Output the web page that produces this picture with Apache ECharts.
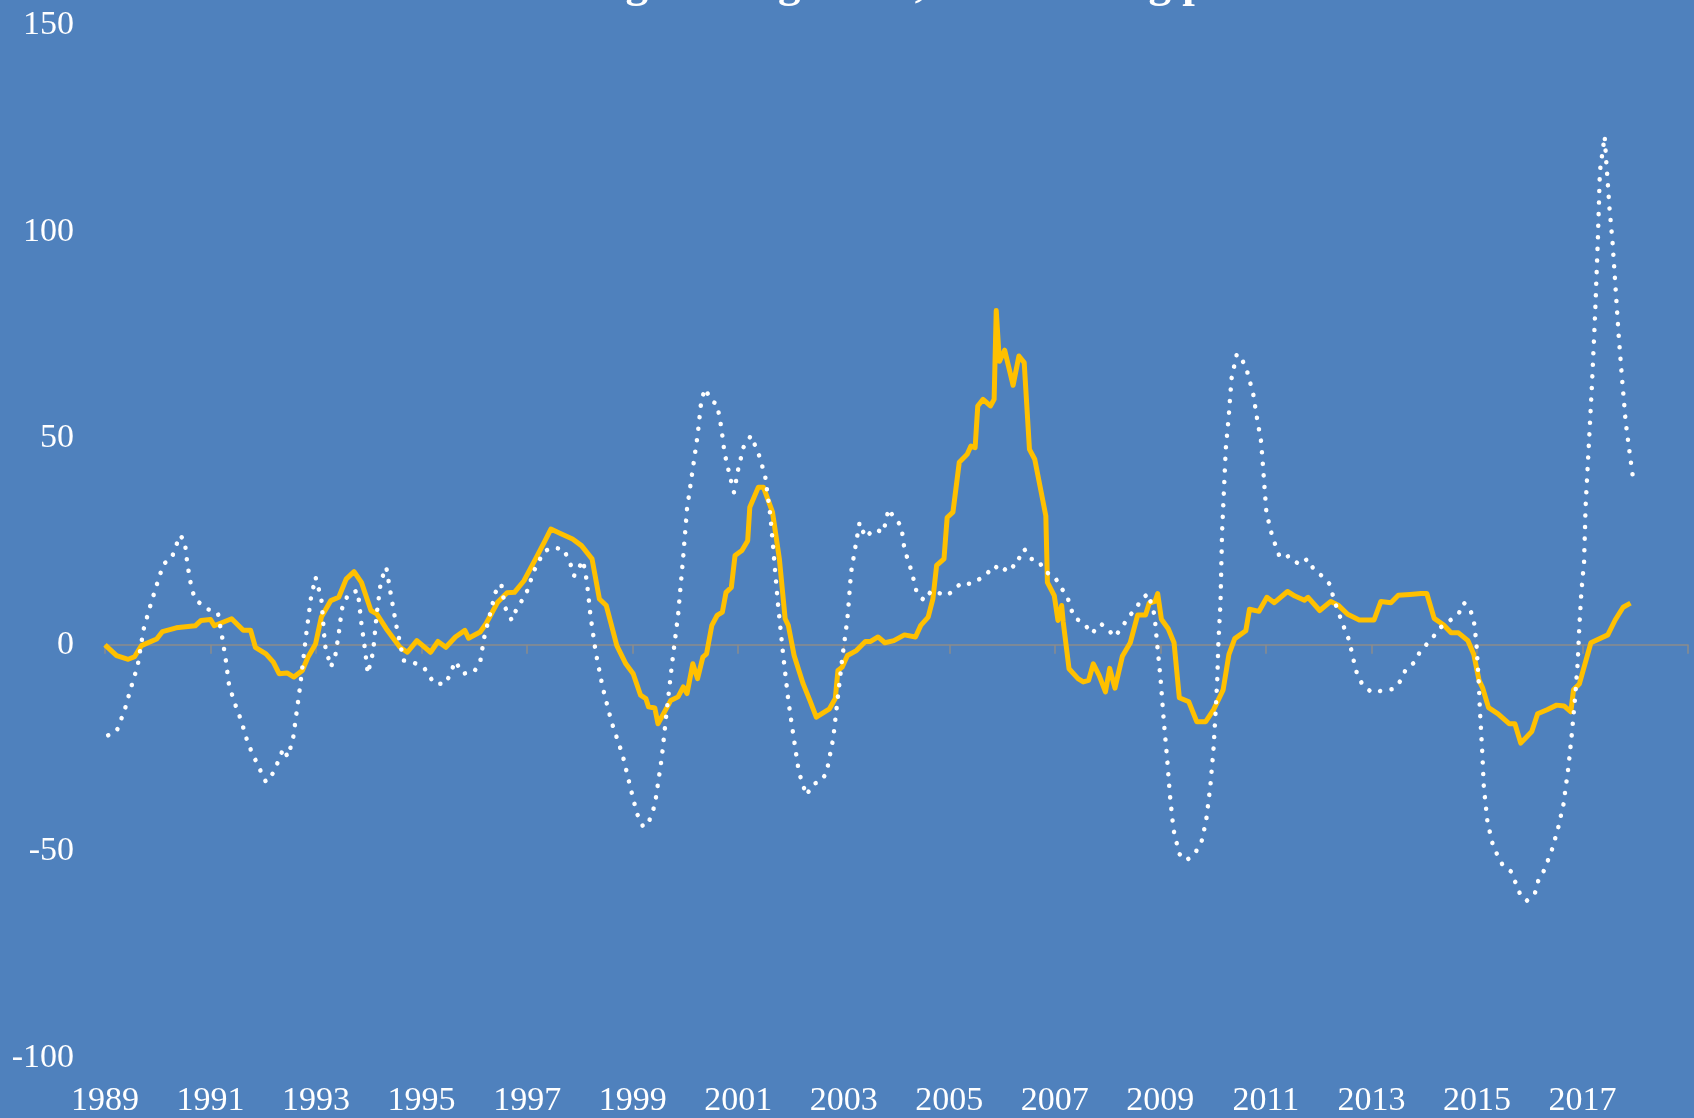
<!DOCTYPE html>
<html>
<head>
<meta charset="utf-8">
<script src="https://cdn.jsdelivr.net/npm/echarts@6/dist/echarts.min.js"></script>
<style>
  html, body { margin: 0; padding: 0; background: #4f81bd; }
  #chart { width: 1694px; height: 1118px; }
</style>
</head>
<body>
<div id="chart"></div>
<script>
// x axis runs Jan 1989 .. Jan 2019, labelled every 2 years
const firstYear = 1989;
const spanYears = 30;
const yTicks = [-100, -50, 0, 50, 100, 150];

// solid gold line (decimal year, value)
const solidYears = [
  1989.00, 1989.22, 1989.44, 1989.56, 1989.69, 1989.98, 1990.09, 1990.35, 1990.71, 1990.82,
  1991.00, 1991.07, 1991.40, 1991.62, 1991.76, 1991.85, 1992.05, 1992.19, 1992.30, 1992.45,
  1992.58, 1992.74, 1992.85, 1992.99, 1993.10, 1993.28, 1993.43, 1993.57, 1993.72, 1993.86,
  1994.04, 1994.15, 1994.33, 1994.59, 1994.73, 1994.91, 1995.17, 1995.31, 1995.46, 1995.64,
  1995.82, 1995.89, 1996.11, 1996.22, 1996.44, 1996.62, 1996.76, 1996.94, 1997.16, 1997.34,
  1997.45, 1997.62, 1997.86, 1998.03, 1998.23, 1998.37, 1998.50, 1998.70, 1998.87, 1999.01,
  1999.15, 1999.25, 1999.30, 1999.42, 1999.48, 1999.72, 1999.86, 1999.96, 2000.03, 2000.14,
  2000.23, 2000.33, 2000.40, 2000.50, 2000.60, 2000.70, 2000.77, 2000.87, 2000.94, 2001.07,
  2001.18, 2001.22, 2001.38, 2001.48, 2001.65, 2001.78, 2001.89, 2001.95, 2002.06, 2002.23,
  2002.36, 2002.48, 2002.73, 2002.84, 2002.89, 2002.97, 2003.07, 2003.24, 2003.41, 2003.51,
  2003.65, 2003.78, 2003.95, 2004.15, 2004.36, 2004.46, 2004.60, 2004.69, 2004.76, 2004.90,
  2004.96, 2005.07, 2005.19, 2005.34, 2005.41, 2005.49, 2005.54, 2005.64, 2005.78, 2005.85,
  2005.89, 2005.95, 2006.05, 2006.21, 2006.32, 2006.42, 2006.52, 2006.62, 2006.83, 2006.86,
  2006.99, 2007.06, 2007.13, 2007.16, 2007.27, 2007.44, 2007.54, 2007.64, 2007.73, 2007.84,
  2007.96, 2008.04, 2008.14, 2008.28, 2008.43, 2008.57, 2008.72, 2008.79, 2008.90, 2008.95,
  2009.02, 2009.15, 2009.26, 2009.36, 2009.54, 2009.69, 2009.86, 2010.01, 2010.19, 2010.30,
  2010.41, 2010.62, 2010.69, 2010.87, 2011.02, 2011.16, 2011.41, 2011.55, 2011.73, 2011.80,
  2012.02, 2012.23, 2012.37, 2012.55, 2012.77, 2013.05, 2013.18, 2013.37, 2013.51, 2013.73,
  2013.94, 2014.05, 2014.19, 2014.37, 2014.51, 2014.65, 2014.83, 2014.94, 2015.04, 2015.11,
  2015.22, 2015.40, 2015.61, 2015.72, 2015.83, 2016.04, 2016.15, 2016.33, 2016.51, 2016.65,
  2016.78, 2016.83, 2016.94, 2017.16, 2017.48, 2017.62, 2017.77, 2017.91
];
const solidValues = [
  0.0, -2.6, -3.5, -2.9, -0.2, 1.4, 3.2, 4.1, 4.6, 5.9,
  6.1, 4.6, 6.3, 3.5, 3.5, -0.6, -2.2, -4.2, -7.0, -6.8,
  -7.8, -6.2, -2.9, 0.2, 6.7, 10.7, 11.5, 15.9, 17.7, 15.1,
  8.3, 7.5, 3.9, -0.6, -1.8, 1.0, -1.8, 0.8, -0.6, 1.9,
  3.5, 1.6, 3.1, 5.1, 10.3, 12.6, 12.7, 15.5, 20.8, 25.2,
  28.0, 27.0, 25.6, 24.0, 20.8, 11.1, 9.5, -0.2, -4.6, -7.0,
  -12.2, -13.0, -15.0, -15.3, -19.1, -13.5, -12.6, -10.2, -11.8, -4.6,
  -8.2, -3.0, -2.2, 4.7, 7.1, 7.9, 12.7, 13.9, 21.6, 22.8,
  25.2, 33.3, 38.1, 38.1, 32.1, 20.8, 6.3, 4.7, -2.6, -9.4,
  -13.5, -17.5, -15.5, -13.0, -6.2, -5.4, -2.6, -1.4, 0.8, 0.8,
  1.9, 0.5, 1.0, 2.4, 1.9, 4.7, 6.7, 11.1, 19.2, 20.8,
  30.8, 32.1, 44.2, 46.1, 48.1, 47.7, 57.8, 59.4, 57.8, 59.4,
  80.9, 68.6, 71.3, 62.8, 69.9, 68.3, 47.3, 44.9, 31.2, 15.1,
  11.9, 5.9, 9.5, 5.5, -5.8, -8.2, -9.0, -8.6, -4.6, -7.4,
  -11.4, -5.7, -10.5, -2.8, 0.5, 7.2, 7.2, 10.1, 10.5, 12.4,
  6.2, 3.9, 0.5, -12.8, -13.8, -18.6, -18.6, -15.7, -10.9, -2.3,
  1.5, 3.4, 8.6, 8.1, 11.5, 10.2, 12.9, 11.8, 10.8, 11.5,
  8.3, 10.5, 9.6, 7.4, 6.0, 6.0, 10.5, 10.2, 12.0, 12.2,
  12.4, 12.4, 6.4, 4.8, 2.9, 2.9, 1.0, -2.3, -8.6, -10.5,
  -15.2, -16.7, -19.1, -19.1, -23.8, -21.0, -16.7, -15.7, -14.6, -14.8,
  -16.2, -10.9, -9.5, 0.5, 2.4, 6.0, 9.1, 10.1
];

// white dotted line (decimal year, value)
const dottedYears = [
  1989.06, 1989.22, 1989.37, 1989.49, 1989.62, 1989.73, 1989.85, 1989.98, 1990.11, 1990.26,
  1990.42, 1990.51, 1990.56, 1990.64, 1990.71, 1990.93, 1991.14, 1991.22, 1991.29, 1991.35,
  1991.45, 1991.58, 1991.71, 1991.88, 1992.05, 1992.20, 1992.38, 1992.46, 1992.56, 1992.70,
  1992.81, 1992.90, 1992.99, 1993.10, 1993.17, 1993.28, 1993.36, 1993.43, 1993.49, 1993.61,
  1993.79, 1993.86, 1993.93, 1993.98, 1994.08, 1994.15, 1994.23, 1994.33, 1994.41, 1994.52,
  1994.66, 1994.84, 1995.06, 1995.24, 1995.46, 1995.64, 1995.78, 1995.99, 1996.11, 1996.18,
  1996.29, 1996.40, 1996.51, 1996.58, 1996.71, 1996.80, 1996.98, 1997.13, 1997.31, 1997.45,
  1997.69, 1997.82, 1997.89, 1998.06, 1998.13, 1998.20, 1998.30, 1998.43, 1998.60, 1998.81,
  1998.97, 1999.08, 1999.19, 1999.28, 1999.42, 1999.55, 1999.65, 1999.75, 1999.86, 1999.96,
  2000.03, 2000.13, 2000.23, 2000.30, 2000.37, 2000.50, 2000.60, 2000.68, 2000.74, 2000.84,
  2000.92, 2001.00, 2001.10, 2001.24, 2001.38, 2001.51, 2001.61, 2001.68, 2001.75, 2001.85,
  2001.95, 2002.05, 2002.15, 2002.29, 2002.43, 2002.53, 2002.67, 2002.80, 2002.90, 2002.97,
  2003.07, 2003.14, 2003.22, 2003.30, 2003.41, 2003.58, 2003.75, 2003.85, 2003.95, 2004.09,
  2004.15, 2004.29, 2004.39, 2004.53, 2004.66, 2004.96, 2005.24, 2005.41, 2005.68, 2005.85,
  2006.01, 2006.15, 2006.23, 2006.42, 2006.55, 2006.69, 2006.82, 2006.99, 2007.09, 2007.23,
  2007.29, 2007.36, 2007.56, 2007.70, 2007.87, 2008.00, 2008.13, 2008.28, 2008.39, 2008.53,
  2008.64, 2008.77, 2008.89, 2008.93, 2009.00, 2009.07, 2009.13, 2009.18, 2009.25, 2009.36,
  2009.49, 2009.65, 2009.78, 2009.87, 2009.95, 2010.01, 2010.05, 2010.08, 2010.10, 2010.14,
  2010.17, 2010.21, 2010.24, 2010.30, 2010.35, 2010.45, 2010.54, 2010.64, 2010.76, 2010.83,
  2010.91, 2010.96, 2011.01, 2011.12, 2011.27, 2011.45, 2011.63, 2011.79, 2011.91, 2012.06,
  2012.20, 2012.34, 2012.49, 2012.58, 2012.68, 2012.74, 2012.85, 2013.02, 2013.20, 2013.42,
  2013.56, 2013.65, 2013.81, 2013.92, 2014.17, 2014.32, 2014.50, 2014.66, 2014.75, 2014.87,
  2014.94, 2014.99, 2015.03, 2015.06, 2015.10, 2015.13, 2015.20, 2015.31, 2015.49, 2015.65,
  2015.73, 2015.81, 2015.94, 2016.10, 2016.16, 2016.26, 2016.41, 2016.54, 2016.64, 2016.73,
  2016.80, 2016.86, 2016.91, 2016.94, 2016.98, 2017.03, 2017.06, 2017.12, 2017.18, 2017.24,
  2017.29, 2017.33, 2017.42, 2017.45, 2017.51, 2017.57, 2017.63, 2017.69, 2017.76, 2017.82,
  2017.88, 2017.97
];
const dottedValues = [
  -21.9, -20.9, -15.9, -10.5, -5.0, 3.7, 9.1, 14.5, 19.6, 20.9,
  26.5, 25.2, 19.6, 13.7, 11.0, 8.7, 7.7, 1.9, -3.8, -9.7,
  -13.8, -18.3, -23.9, -28.7, -33.2, -30.8, -25.1, -27.1, -23.1, -9.8,
  2.2, 11.1, 16.4, 11.1, -0.2, -5.4, -3.0, 2.7, 8.7, 12.3,
  13.1, 5.1, -1.4, -7.0, -1.8, 7.5, 15.5, 18.8, 12.7, 4.7,
  -3.8, -4.2, -5.8, -9.4, -9.4, -4.0, -7.0, -6.6, -4.2, 1.4,
  7.1, 12.7, 14.7, 9.1, 5.9, 8.7, 12.3, 17.9, 22.4, 23.5,
  23.2, 19.6, 16.7, 20.4, 15.5, 7.1, -1.8, -10.2, -18.7, -26.7,
  -35.2, -40.8, -43.8, -43.8, -38.8, -27.5, -15.5, -4.2, 7.1, 21.6,
  32.9, 41.7, 50.6, 59.0, 62.0, 59.0, 58.2, 52.6, 46.5, 40.9,
  36.9, 42.5, 47.8, 50.6, 46.5, 40.9, 31.2, 20.8, 10.3, -2.2,
  -13.5, -22.3, -30.8, -36.4, -33.6, -33.3, -31.2, -22.7, -11.4, -3.4,
  6.3, 17.6, 23.6, 29.6, 26.0, 28.0, 27.2, 32.9, 30.8, 28.8,
  23.2, 17.6, 12.3, 10.7, 13.1, 11.9, 15.1, 14.7, 16.7, 19.2,
  17.6, 19.6, 18.8, 23.2, 20.8, 20.4, 17.6, 16.7, 14.3, 11.9,
  9.5, 6.7, 5.1, 2.7, 5.1, 3.9, 1.9, 4.3, 6.7, 8.6,
  11.0, 12.4, 7.2, 1.5, -7.6, -19.1, -27.7, -36.2, -44.8, -50.6,
  -52.2, -50.6, -47.7, -42.4, -33.9, -24.8, -15.7, -8.1, 0.5, 10.1,
  27.2, 38.7, 47.3, 55.9, 64.5, 70.4, 69.3, 66.4, 60.7, 55.0,
  49.2, 40.6, 32.0, 26.3, 21.0, 21.5, 19.4, 20.8, 18.2, 16.7,
  14.8, 9.1, 3.9, 1.0, -4.7, -7.6, -10.0, -11.6, -11.1, -10.7,
  -8.6, -6.0, -4.3, -1.7, 1.9, 4.3, 6.0, 7.7, 10.2, 8.6,
  6.0, 0.5, -8.1, -16.7, -25.8, -34.3, -42.9, -48.9, -53.4, -54.9,
  -57.5, -60.1, -62.0, -60.1, -57.2, -54.9, -50.1, -44.3, -38.6, -30.0,
  -21.4, -12.8, -4.3, 4.3, 12.9, 20.0, 33.6, 48.2, 62.9, 80.1,
  97.4, 114.6, 123.1, 117.2, 106.0, 97.4, 85.8, 74.1, 62.9, 53.8,
  47.8, 39.2
];

const titleText = 'Housing starts growth, and housing prices';

const chart = echarts.init(document.getElementById('chart'));

// x is years since 1989, so the axis starts at 0
const toPairs = (years, values) => years.map((y, i) => [y - firstYear, values[i]]);

const labelFont = {
  color: '#ffffff',
  fontSize: 34,
  fontFamily: '"Liberation Serif", "Times New Roman", serif'
};

const option = {
  animation: false,
  backgroundColor: '#4f81bd',
  title: {
    text: titleText,
    left: 488,
    top: -37,
    padding: 0,
    textStyle: {
      color: '#ffffff',
      fontSize: 45,
      fontWeight: 'bold',
      fontFamily: '"Liberation Serif", "Times New Roman", serif'
    }
  },
  grid: { left: 105, right: 6, top: 25, bottom: 60 },
  xAxis: [
    {
      // the zero line with its tick marks
      type: 'value',
      min: 0,
      max: spanYears,
      interval: 2,
      axisLine: { onZero: true, lineStyle: { color: '#8c8c8c', width: 1.5 } },
      axisTick: { show: true, length: 9, lineStyle: { color: '#8c8c8c', width: 1.5 } },
      axisLabel: { show: false },
      splitLine: { show: false }
    },
    {
      // year labels along the bottom
      type: 'value',
      position: 'bottom',
      min: 0,
      max: spanYears,
      interval: 2,
      axisLine: { show: false, onZero: false },
      axisTick: { show: false },
      splitLine: { show: false },
      axisLabel: Object.assign({
        margin: 26,
        showMaxLabel: false,
        formatter: v => (v >= spanYears ? '' : String(firstYear + v))
      }, labelFont)
    }
  ],
  yAxis: {
    type: 'value',
    min: yTicks[0],
    max: yTicks[yTicks.length - 1],
    interval: 50,
    axisLine: { show: false },
    axisTick: { show: false },
    splitLine: { show: false },
    axisLabel: Object.assign({ margin: 31 }, labelFont)
  },
  series: [
    {
      name: 'solid',
      type: 'line',
      xAxisIndex: 0,
      data: toPairs(solidYears, solidValues),
      showSymbol: false,
      lineStyle: { color: '#ffc000', width: 5, join: 'round' }
    },
    {
      name: 'dotted',
      type: 'line',
      xAxisIndex: 0,
      data: toPairs(dottedYears, dottedValues),
      showSymbol: false,
      lineStyle: { color: '#ffffff', width: 4.5, type: [0.1, 11.5], cap: 'round' }
    }
  ]
};

chart.setOption(option);
</script>
</body>
</html>
